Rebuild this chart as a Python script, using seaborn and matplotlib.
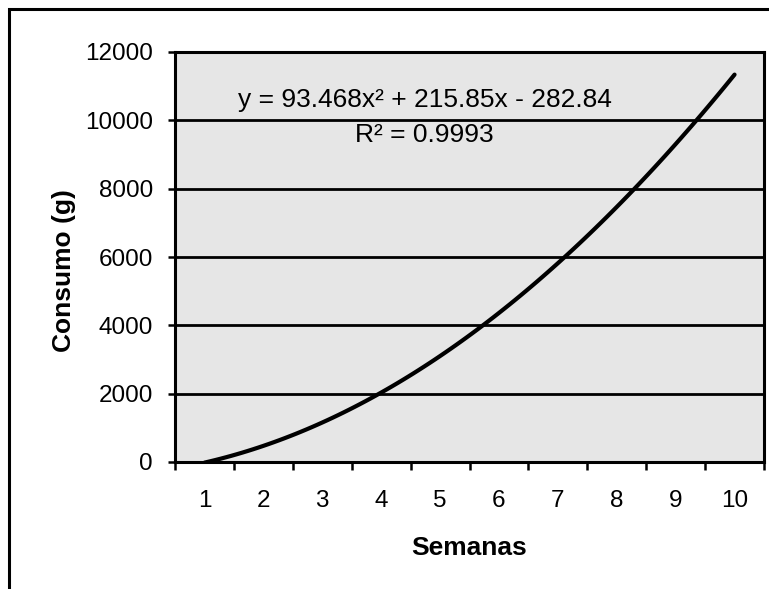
import matplotlib
matplotlib.use("Agg")
import matplotlib.pyplot as plt
import seaborn as sns
import pandas as pd
from matplotlib.patches import Rectangle

# Data (weekly consumption, g)
semanas = [1, 2, 3, 4, 5, 6, 7, 8, 9, 10]
consumo = [20, 450, 1180, 2000, 2950, 4450, 5830, 7600, 9250, 11300]
y_ticks = [0, 2000, 4000, 6000, 8000, 10000, 12000]
equation = "y = 93.468x² + 215.85x - 282.84"
r2_text = "R² = 0.9993"

df = pd.DataFrame({"Semanas": semanas, "Consumo": consumo})

sns.set_style("white")
plt.rcParams["font.family"] = ["Liberation Sans", "DejaVu Sans"]

W, H = 769, 589
fig = plt.figure(figsize=(W / 100, H / 100), dpi=100)
fig.patch.set_facecolor("white")

# outer chart border (cut off at right and bottom in the reference)
fig.patches.append(Rectangle((9 / W, -0.1), 1.2, 1 - 9 / H + 0.1, transform=fig.transFigure,
                             fill=False, edgecolor="black", linewidth=2.2, clip_on=False))

ax = fig.add_axes([175 / W, 1 - 462 / H, (764 - 175) / W, (462 - 52) / H])
ax.set_facecolor("#e6e6e6")

sns.regplot(data=df, x="Semanas", y="Consumo", order=2, ci=None, scatter=False,
            truncate=True, line_kws=dict(color="black", lw=3.0), ax=ax)

ax.set_xlim(0.5, 10.5)
ax.set_ylim(0, 12000)
ax.set_yticks(y_ticks)
ax.set_yticklabels([str(v) for v in y_ticks])
for v in y_ticks[1:-1]:
    ax.axhline(v, color="black", lw=2.0, zorder=1)

# category axis: tick marks between categories, labels at centers
ax.set_xticks([i + 0.5 for i in range(0, 11)])
ax.set_xticklabels([""] * 11)
ax.set_xticks(semanas, minor=True)
ax.set_xticklabels([str(s) for s in semanas], minor=True)
ax.tick_params(axis="x", which="major", direction="out", length=6, width=1.8, color="black", bottom=True)
ax.tick_params(axis="x", which="minor", length=0, pad=20, labelsize=17.5, labelcolor="black")
ax.tick_params(axis="y", which="major", direction="out", length=5, width=1.8, color="black",
               left=True, pad=11, labelsize=17.5, labelcolor="black")

for s in ax.spines.values():
    s.set_visible(True)
    s.set_color("black")
    s.set_linewidth(2.2)

ax.set_xlabel("Semanas", fontsize=19, fontweight="bold", color="black")
ax.set_ylabel("Consumo (g)", fontsize=19, fontweight="bold", color="black")
ax.xaxis.set_label_coords(0.50, -0.180)
ax.yaxis.set_label_coords(-0.168, 0.468)

ax.text(0.424, 0.866, equation, transform=ax.transAxes, ha="center", va="baseline",
        fontsize=19, color="black")
ax.text(0.424, 0.780, r2_text, transform=ax.transAxes, ha="center", va="baseline",
        fontsize=19, color="black")

fig.savefig("out.png", dpi=100)
